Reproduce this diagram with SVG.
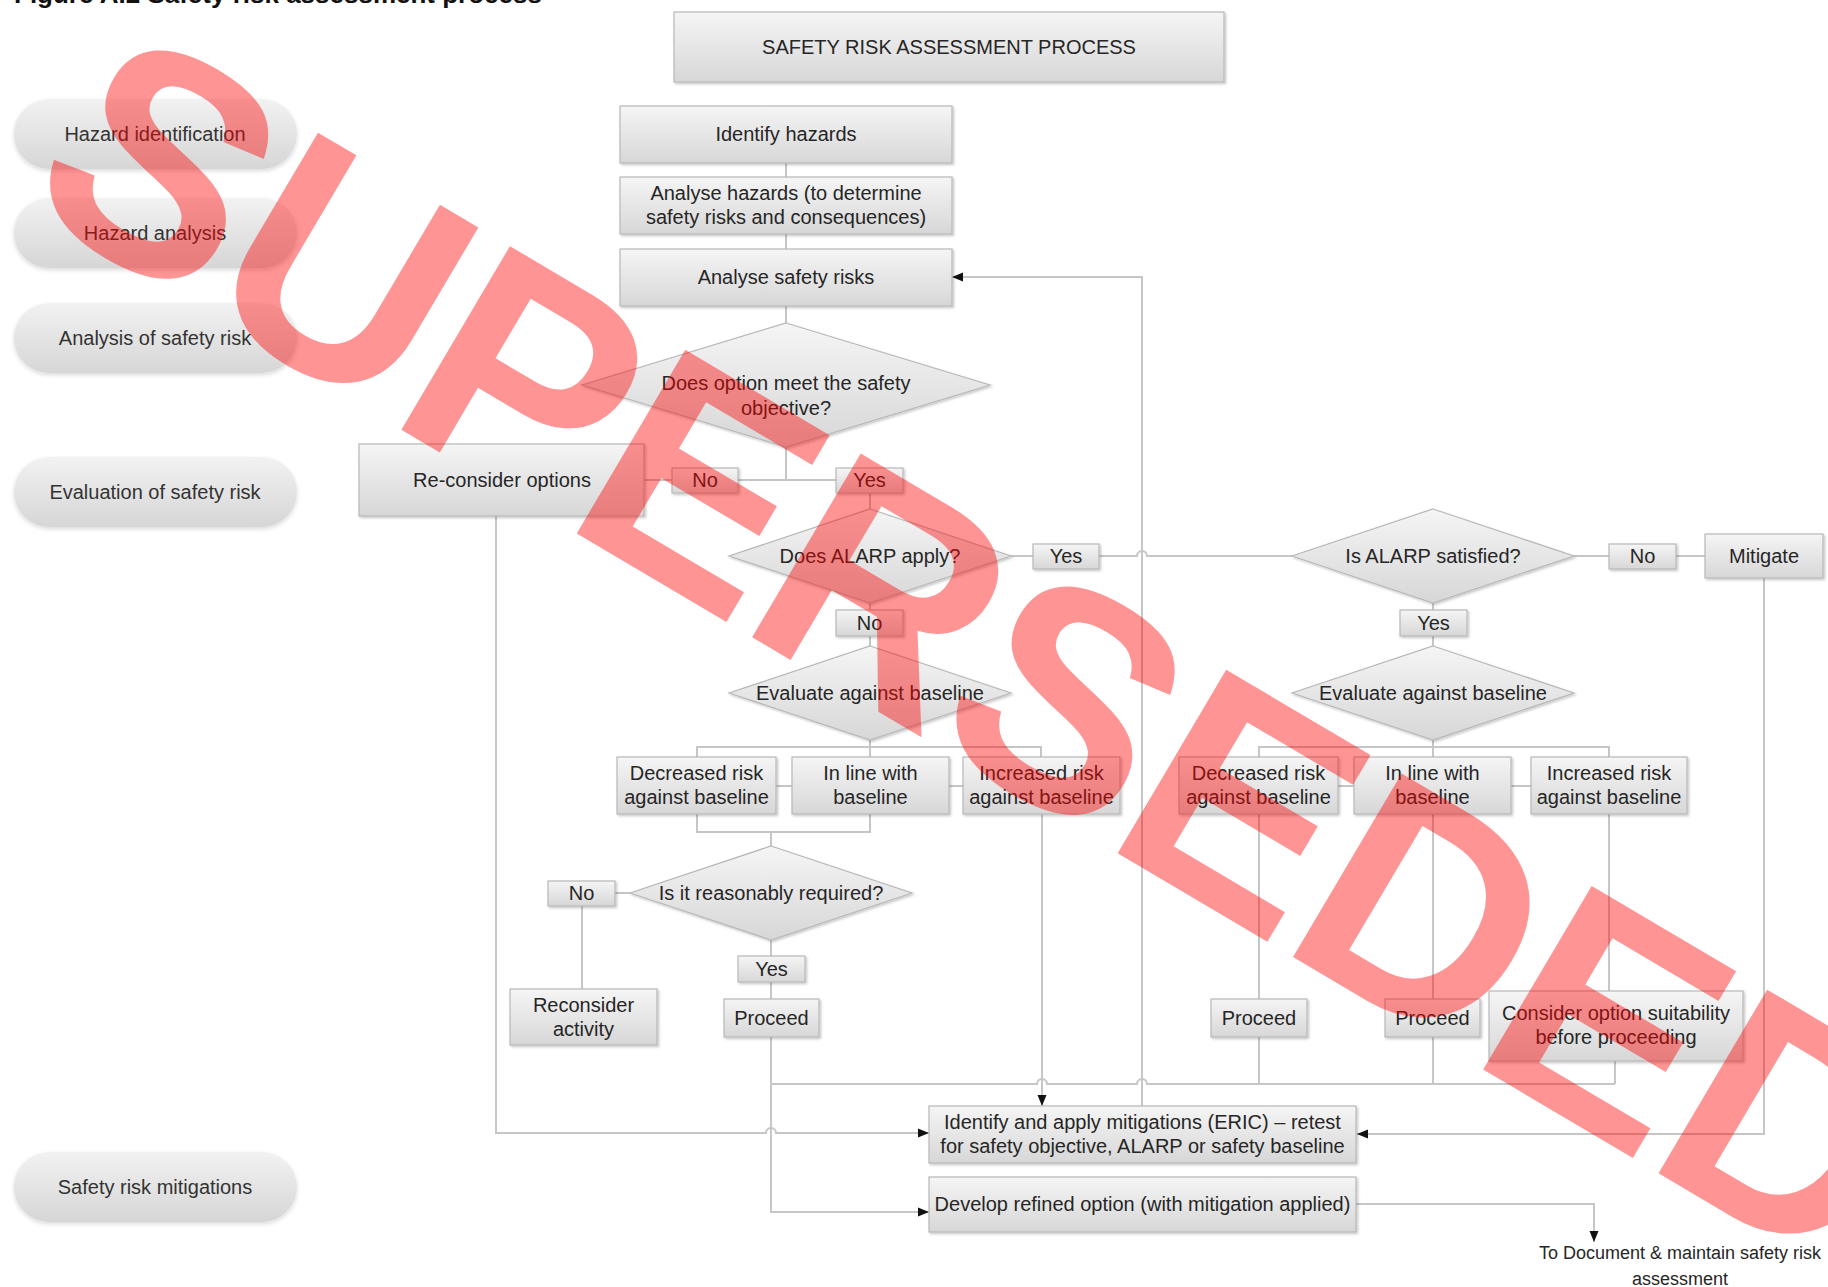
<svg xmlns="http://www.w3.org/2000/svg" width="1828" height="1287" viewBox="0 0 1828 1287">
<style>
text{font-family:"Liberation Sans",Arial,sans-serif;fill:#262626;text-anchor:middle}
.t{font-size:20px}
.lbl{font-size:20px;fill:#333}
.box{fill:url(#g);stroke:#b8b8b8;stroke-width:1.2;filter:url(#sh)}
.pill{fill:url(#gp);filter:url(#shp)}
.c{fill:none;stroke:#c6c6c6;stroke-width:2}
.a{marker-end:url(#arr)}
</style>
<defs>
<linearGradient id="g" x1="0" y1="0" x2="0" y2="1"><stop offset="0" stop-color="#f5f5f5"/><stop offset="1" stop-color="#d7d7d7"/></linearGradient>
<linearGradient id="gp" x1="0" y1="0" x2="0" y2="1"><stop offset="0" stop-color="#f2f2f2"/><stop offset="1" stop-color="#d6d6d6"/></linearGradient>
<filter id="sh" x="-5%" y="-10%" width="115%" height="130%"><feDropShadow dx="1.5" dy="1.5" stdDeviation="1.2" flood-color="#000" flood-opacity="0.22"/></filter>
<filter id="shp" x="-5%" y="-10%" width="115%" height="130%"><feDropShadow dx="0" dy="2" stdDeviation="2" flood-color="#000" flood-opacity="0.15"/></filter>
<marker id="arr" markerUnits="userSpaceOnUse" markerWidth="12" markerHeight="10" refX="11" refY="5" orient="auto"><path d="M0,0.5 L11,5 L0,9.5 z" fill="#111"/></marker>
</defs>
<rect width="1828" height="1287" fill="#fff"/>

<text x="14" y="3" style="font-size:26px;font-weight:bold;text-anchor:start;fill:#111">Figure A.2 Safety risk assessment process</text>

<g id="connectors">
<path class="c" d="M786,163V177M786,234V249M786,306V323M786,447V480"/>
<path class="c" d="M644,480H672M738,480H836"/>
<path class="c" d="M870,493V509"/>
<path class="c" d="M1011,556H1033M1099,556H1137a5,5 0 0 1 10,0H1292"/>
<path class="c" d="M1574,556H1609M1676,556H1705"/>
<path class="c a" d="M1764,578V1134H1357"/>
<path class="c" d="M870,603V610M870,636V646M1433,603V610M1433,636V646"/>
<path class="c" d="M697,757V747H1041V757M870,740V757"/>
<path class="c" d="M1259,757V747H1609V757M1433,740V757"/>
<path class="c" d="M776,786H792M949,786H963M1338,786H1354M1511,786H1531"/>
<path class="c" d="M697,814V832H870V814M771,832V846"/>
<path class="c" d="M630,893H615M582,906V989"/>
<path class="c" d="M771,940V956M771,982V999"/>
<path class="c a" d="M771,1037V1212H929"/>
<path class="c a" d="M496,516V1133H766a5,5 0 0 1 10,0H929"/>
<path class="c a" d="M1042,814V1106"/>
<path class="c" d="M771,1084H1037a5,5 0 0 1 10,0H1137a5,5 0 0 1 10,0H1615"/>
<path class="c" d="M1259,814V999M1259,1037V1084M1433,814V999M1433,1037V1084M1609,814V991M1615,1061V1084"/>
<path class="c a" d="M1142,1106V277H952"/>
<path class="c a" d="M1356,1204H1594V1242"/>
</g>

<g id="lane-hazard-identification"><rect class="pill" x="14" y="99" width="283" height="70" rx="35"/><text class="lbl" x="155" y="141">Hazard identification</text></g>
<g id="lane-hazard-analysis"><rect class="pill" x="14" y="198" width="283" height="70" rx="35"/><text class="lbl" x="155" y="240">Hazard analysis</text></g>
<g id="lane-analysis-of-safety-risk"><rect class="pill" x="14" y="303" width="283" height="70" rx="35"/><text class="lbl" x="155" y="345">Analysis of safety risk</text></g>
<g id="lane-evaluation"><rect class="pill" x="14" y="457" width="283" height="70" rx="35"/><text class="lbl" x="155" y="499">Evaluation of safety risk</text></g>
<g id="lane-mitigations"><rect class="pill" x="14" y="1152" width="283" height="70" rx="35"/><text class="lbl" x="155" y="1194">Safety risk mitigations</text></g>

<g id="title-box"><rect class="box" x="674" y="12" width="550" height="70"/><text class="t" x="949" y="54">SAFETY RISK ASSESSMENT PROCESS</text></g>
<g id="identify-hazards"><rect class="box" x="620" y="106" width="332" height="57"/><text class="t" x="786" y="141">Identify hazards</text></g>
<g id="analyse-hazards"><rect class="box" x="620" y="177" width="332" height="57"/><text class="t" x="786" y="200">Analyse hazards (to determine</text><text class="t" x="786" y="224">safety risks and consequences)</text></g>
<g id="analyse-safety-risks"><rect class="box" x="620" y="249" width="332" height="57"/><text class="t" x="786" y="284">Analyse safety risks</text></g>
<g id="meet-objective"><polygon class="box" points="786,323 990,385 786,447 582,385"/><text class="t" x="786" y="390">Does option meet the safety</text><text class="t" x="786" y="415">objective?</text></g>
<g id="reconsider-options"><rect class="box" x="359" y="444" width="285" height="72"/><text class="t" x="502" y="487">Re-consider options</text></g>
<g id="no-1"><rect class="box" x="672" y="468" width="66" height="25"/><text class="t" x="705" y="487">No</text></g>
<g id="yes-1"><rect class="box" x="836" y="468" width="67" height="25"/><text class="t" x="869.5" y="487">Yes</text></g>
<g id="alarp-apply"><polygon class="box" points="870,509 1011,556 870,603 729,556"/><text class="t" x="870" y="563">Does ALARP apply?</text></g>
<g id="yes-2"><rect class="box" x="1033" y="544" width="66" height="25"/><text class="t" x="1066" y="563">Yes</text></g>
<g id="alarp-satisfied"><polygon class="box" points="1433,509 1574,556 1433,603 1292,556"/><text class="t" x="1433" y="563">Is ALARP satisfied?</text></g>
<g id="no-2"><rect class="box" x="1609" y="544" width="67" height="25"/><text class="t" x="1642.5" y="563">No</text></g>
<g id="mitigate"><rect class="box" x="1705" y="534" width="118" height="44"/><text class="t" x="1764" y="563">Mitigate</text></g>
<g id="no-3"><rect class="box" x="836" y="610" width="67" height="26"/><text class="t" x="869.5" y="630">No</text></g>
<g id="yes-3"><rect class="box" x="1400" y="610" width="67" height="26"/><text class="t" x="1433.5" y="630">Yes</text></g>
<g id="evaluate-left"><polygon class="box" points="870,646 1011,693 870,740 729,693"/><text class="t" x="870" y="700">Evaluate against baseline</text></g>
<g id="evaluate-right"><polygon class="box" points="1433,646 1574,693 1433,740 1292,693"/><text class="t" x="1433" y="700">Evaluate against baseline</text></g>
<g id="decreased-left"><rect class="box" x="617" y="757" width="159" height="57"/><text class="t" x="696.5" y="780">Decreased risk</text><text class="t" x="696.5" y="804">against baseline</text></g>
<g id="inline-left"><rect class="box" x="792" y="757" width="157" height="57"/><text class="t" x="870.5" y="780">In line with</text><text class="t" x="870.5" y="804">baseline</text></g>
<g id="increased-left"><rect class="box" x="963" y="757" width="157" height="57"/><text class="t" x="1041.5" y="780">Increased risk</text><text class="t" x="1041.5" y="804">against baseline</text></g>
<g id="decreased-right"><rect class="box" x="1179" y="757" width="159" height="57"/><text class="t" x="1258.5" y="780">Decreased risk</text><text class="t" x="1258.5" y="804">against baseline</text></g>
<g id="inline-right"><rect class="box" x="1354" y="757" width="157" height="57"/><text class="t" x="1432.5" y="780">In line with</text><text class="t" x="1432.5" y="804">baseline</text></g>
<g id="increased-right"><rect class="box" x="1531" y="757" width="156" height="57"/><text class="t" x="1609" y="780">Increased risk</text><text class="t" x="1609" y="804">against baseline</text></g>
<g id="reasonably-required"><polygon class="box" points="771,846 912,893 771,940 630,893"/><text class="t" x="771" y="900">Is it reasonably required?</text></g>
<g id="no-4"><rect class="box" x="548" y="881" width="67" height="25"/><text class="t" x="581.5" y="900">No</text></g>
<g id="reconsider-activity"><rect class="box" x="510" y="989" width="147" height="56"/><text class="t" x="583.5" y="1012">Reconsider</text><text class="t" x="583.5" y="1036">activity</text></g>
<g id="yes-4"><rect class="box" x="738" y="956" width="67" height="26"/><text class="t" x="771.5" y="976">Yes</text></g>
<g id="proceed-left"><rect class="box" x="724" y="999" width="95" height="38"/><text class="t" x="771.5" y="1025">Proceed</text></g>
<g id="proceed-right-1"><rect class="box" x="1211" y="999" width="96" height="38"/><text class="t" x="1259" y="1025">Proceed</text></g>
<g id="proceed-right-2"><rect class="box" x="1385" y="999" width="95" height="38"/><text class="t" x="1432.5" y="1025">Proceed</text></g>
<g id="consider-suitability"><rect class="box" x="1489" y="991" width="254" height="70"/><text class="t" x="1616" y="1020">Consider option suitability</text><text class="t" x="1616" y="1044">before proceeding</text></g>
<g id="identify-mitigations"><rect class="box" x="929" y="1106" width="427" height="57"/><text class="t" x="1142.5" y="1129">Identify and apply mitigations (ERIC) – retest</text><text class="t" x="1142.5" y="1153">for safety objective, ALARP or safety baseline</text></g>
<g id="develop-refined"><rect class="box" x="929" y="1177" width="427" height="55"/><text class="t" x="1142.5" y="1211">Develop refined option (with mitigation applied)</text></g>
<g id="to-document"><text x="1680" y="1259" style="font-size:18px">To Document &amp; maintain safety risk</text><text x="1680" y="1285" style="font-size:18px">assessment</text></g>

<text transform="translate(18,203) rotate(30.6)" x="0" y="0" style="font-size:310px;font-weight:bold;letter-spacing:-3px;text-anchor:start;fill:#ff0000;fill-opacity:0.42">SUPERSEDED</text>
</svg>
